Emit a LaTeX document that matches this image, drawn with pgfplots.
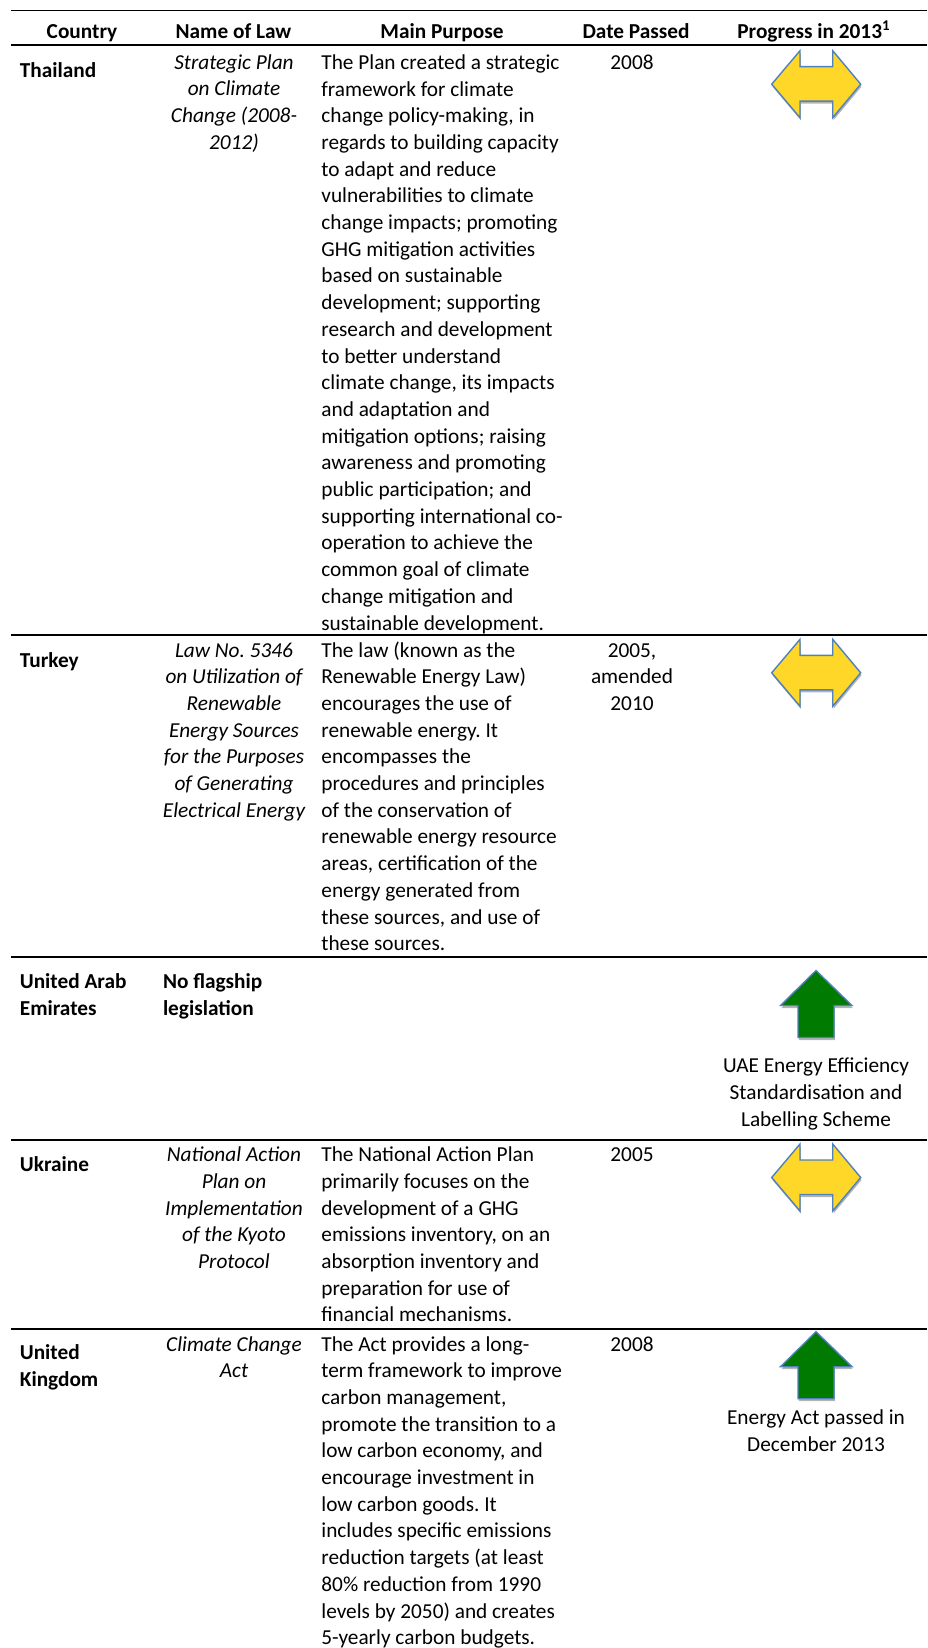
\documentclass[border=0pt]{standalone}
\usepackage{fontspec}
\setmainfont{Carlito}
\usepackage{pgfplots}
\pgfplotsset{compat=1.18}
\definecolor{arrowyellow}{RGB}{255,215,40}
\definecolor{arrowblue}{RGB}{79,129,189}
\definecolor{arrowgreen}{RGB}{0,122,0}
\definecolor{shadowgray}{RGB}{180,180,180}
\frenchspacing
\tikzset{
  tx/.style={anchor=base west, align=left, inner sep=0pt, font=\fontsize{10.65}{13.35}\selectfont},
  ctr/.style={anchor=base, align=center, inner sep=0pt, font=\fontsize{10.65}{13.35}\selectfont},
  darrow/.style={fill=arrowyellow, draw=arrowblue, line width=0.7pt, line join=miter},
  uarrow/.style={fill=arrowgreen, draw=arrowblue, line width=0.7pt, line join=miter},
  shad/.style={fill=shadowgray, draw=none}}
\begin{document}
\begin{tikzpicture}
\begin{axis}[width=463.5pt,height=824pt,scale only axis,hide axis,
  xmin=0,xmax=927,ymin=0,ymax=1648,y dir=reverse,clip=false]

% rules
\draw[line width=0.6pt] (axis cs:11,10.3) -- (axis cs:927,10.3);
\draw[line width=1.1pt] (axis cs:11,44.8) -- (axis cs:927,44.8);
\draw[line width=1pt] (axis cs:11,635) -- (axis cs:927,635);
\draw[line width=1pt] (axis cs:11,956.7) -- (axis cs:927,956.7);
\draw[line width=1pt] (axis cs:11,1139.7) -- (axis cs:927,1139.7);
\draw[line width=1pt] (axis cs:11,1329.3) -- (axis cs:927,1329.3);

% header (anchors are at the baseline of the LAST line of each node)
\node[ctr] at (axis cs:82,38.3) {\bfseries Country};
\node[ctr] at (axis cs:233.5,38.3) {\bfseries Name of Law};
\node[ctr] at (axis cs:442,38.3) {\bfseries Main Purpose};
\node[ctr] at (axis cs:636,38.3) {\bfseries Date Passed};
\node[ctr] at (axis cs:814,38.3) {\bfseries Progress in 2013\textsuperscript{1}};

% Thailand
\node[tx] at (axis cs:19.5,77.7) {\bfseries Thailand};
\node[ctr] at (axis cs:234,149.4) {\itshape Strategic Plan\\\itshape on Climate\\\itshape Change (2008-\\\itshape 2012)};
\node[tx] at (axis cs:321,630.0) {The Plan created a strategic\\framework for climate\\change policy-making, in\\regards to building capacity\\to adapt and reduce\\vulnerabilities to climate\\change impacts; promoting\\GHG mitigation activities\\based on sustainable\\development; supporting\\research and development\\to better understand\\climate change, its impacts\\and adaptation and\\mitigation options; raising\\awareness and promoting\\public participation; and\\supporting international co-\\operation to achieve the\\common goal of climate\\change mitigation and\\sustainable development.};
\node[ctr] at (axis cs:632,69.3) {2008};

% Turkey
\node[tx] at (axis cs:19.5,667.7) {\bfseries Turkey};
\node[ctr] at (axis cs:234,817.2) {\itshape Law No. 5346\\\itshape on Utilization of\\\itshape Renewable\\\itshape Energy Sources\\\itshape for the Purposes\\\itshape of Generating\\\itshape Electrical Energy};
\node[tx] at (axis cs:321,950.7) {The law (known as the\\Renewable Energy Law)\\encourages the use of\\renewable energy. It\\encompasses the\\procedures and principles\\of the conservation of\\renewable energy resource\\areas, certification of the\\energy generated from\\these sources, and use of\\these sources.};
\node[ctr] at (axis cs:632,710.4) {2005,\\amended\\2010};

% UAE
\node[tx] at (axis cs:19.5,1015.4) {\bfseries United Arab\\\bfseries Emirates};
\node[tx] at (axis cs:162.6,1015.4) {\bfseries No flagship\\\bfseries legislation};
\node[ctr] at (axis cs:816,1126.1) {UAE Energy Efficiency\\Standardisation and\\Labelling Scheme};

% Ukraine
\node[tx] at (axis cs:19.5,1171.7) {\bfseries Ukraine};
\node[ctr] at (axis cs:234,1268.5) {\itshape National Action\\\itshape Plan on\\\itshape Implementation\\\itshape of the Kyoto\\\itshape Protocol};
\node[tx] at (axis cs:321,1321.9) {The National Action Plan\\primarily focuses on the\\development of a GHG\\emissions inventory, on an\\absorption inventory and\\preparation for use of\\financial mechanisms.};
\node[ctr] at (axis cs:632,1161.7) {2005};

% United Kingdom
\node[tx] at (axis cs:19.5,1386) {\bfseries United\\\bfseries Kingdom};
\node[ctr] at (axis cs:234,1377.7) {\itshape Climate Change\\\itshape Act};
\node[tx] at (axis cs:321,1644.7) {The Act provides a long-\\term framework to improve\\carbon management,\\promote the transition to a\\low carbon economy, and\\encourage investment in\\low carbon goods. It\\includes specific emissions\\reduction targets (at least\\80\% reduction from 1990\\levels by 2050) and creates\\5-yearly carbon budgets.};
\node[ctr] at (axis cs:632,1351) {2008};
\node[ctr] at (axis cs:816,1451) {Energy Act passed in\\December 2013};

% arrow shadows
\addplot[shad] coordinates {(772.5,86.7) (800.8,53.2) (800.8,69.2) (833.5,69.2) (833.5,53.2) (861.5,86.7) (833.5,120.2) (833.5,103.7) (800.8,103.7) (800.8,120.2)} -- cycle;
\addplot[shad] coordinates {(772.5,675.3) (800.8,641.8) (800.8,657.8) (833.5,657.8) (833.5,641.8) (861.5,675.3) (833.5,708.8) (833.5,692.3) (800.8,692.3) (800.8,708.8)} -- cycle;
\addplot[shad] coordinates {(772.5,1180) (800.8,1146.5) (800.8,1162.5) (833.5,1162.5) (833.5,1146.5) (861.5,1180) (833.5,1213.5) (833.5,1197) (800.8,1197) (800.8,1213.5)} -- cycle;
\addplot[shad] coordinates {(816.8,973) (852.8,1008) (834.8,1008) (834.8,1040) (798.8,1040) (798.8,1008) (781.3,1008)} -- cycle;
\addplot[shad] coordinates {(816.8,1334.2) (852.8,1369.2) (834.8,1369.2) (834.8,1401.2) (798.8,1401.2) (798.8,1369.2) (781.3,1369.2)} -- cycle;

% double arrows (no change)
\addplot[darrow] coordinates {(771.7,84.2) (800,50.7) (800,66.7) (832.7,66.7) (832.7,50.7) (860.7,84.2) (832.7,117.7) (832.7,101.2) (800,101.2) (800,117.7)} -- cycle;
\addplot[darrow] coordinates {(771.7,672.8) (800,639.3) (800,655.3) (832.7,655.3) (832.7,639.3) (860.7,672.8) (832.7,706.3) (832.7,689.8) (800,689.8) (800,706.3)} -- cycle;
\addplot[darrow] coordinates {(771.7,1177.5) (800,1144) (800,1160) (832.7,1160) (832.7,1144) (860.7,1177.5) (832.7,1211) (832.7,1194.5) (800,1194.5) (800,1211)} -- cycle;

% up arrows (progress)
\addplot[uarrow] coordinates {(816,970.5) (852,1005.5) (834,1005.5) (834,1037.5) (798,1037.5) (798,1005.5) (780.5,1005.5)} -- cycle;
\addplot[uarrow] coordinates {(816,1331.7) (852,1366.7) (834,1366.7) (834,1398.7) (798,1398.7) (798,1366.7) (780.5,1366.7)} -- cycle;
\end{axis}
\pgfresetboundingbox
\path (current axis.south west) rectangle (current axis.north east);
\end{tikzpicture}
\end{document}
